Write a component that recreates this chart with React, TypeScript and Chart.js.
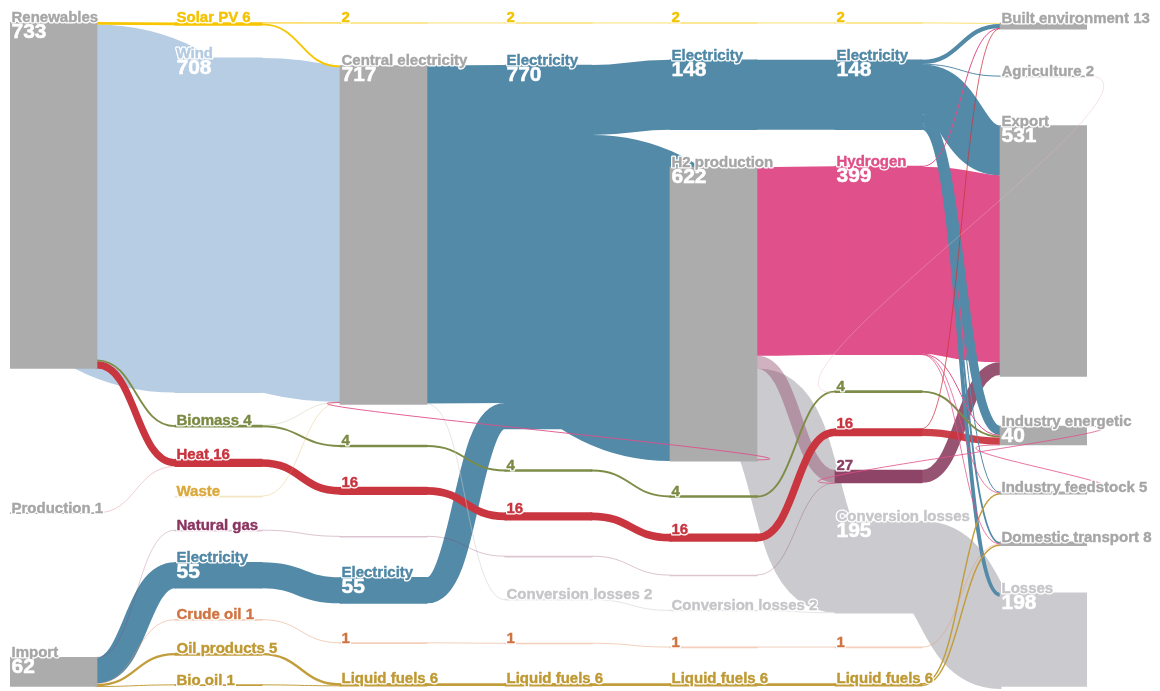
import React, { useEffect, useRef } from "react";
import { Chart, registerables } from "chart.js";

Chart.register(...registerables);

// ---------------- DATA ----------------
const NODE_IDS = [
  "renewables", "production", "import",
  "solarPV", "wind", "biomass1", "heat1", "waste", "gas1", "elec55a", "crude1", "oilProducts", "bioOil",
  "solar2", "central", "biomass2", "heat2", "gas2", "elec55b", "crude2", "liquid2",
  "solar3", "elec770", "biomass3", "heat3", "gas3", "conv2a", "crude3", "liquid3",
  "solar4", "elec148a", "h2prod", "biomass4", "heat4", "gas4", "conv2b", "crude4", "liquid4",
  "solar5", "elec148b", "hydrogen", "biomass5", "heat5", "gas27", "conv195", "crude5", "liquid5",
  "built", "agri", "export", "indEnergetic", "indFeedstock", "transport", "losses",
];

const NODE_NAMES = [
  "Renewables", "Production", "Import",
  "Solar PV", "Wind", "Biomass", "Heat", "Waste", "Natural gas", "Electricity", "Crude oil", "Oil products", "Bio oil",
  "", "Central electricity", "", "", "", "Electricity", "", "Liquid fuels",
  "", "Electricity", "", "", "", "Conversion losses", "", "Liquid fuels",
  "", "Electricity", "H2 production", "", "", "", "Conversion losses", "", "Liquid fuels",
  "", "Electricity", "Hydrogen", "", "", "", "Conversion losses", "", "Liquid fuels",
  "Built environment", "Agriculture", "Export", "Industry energetic", "Industry feedstock", "Domestic transport", "Losses",
];

const NODE_VALUES = [
  733, 1, 62,
  6, 708, 4, 16, 0.4, 0.4, 55, 1, 5, 1,
  2, 717, 4, 16, 0.4, 55, 1, 6,
  2, 770, 4, 16, 0.4, 2, 1, 6,
  2, 148, 622, 4, 16, 0.4, 2, 1, 6,
  2, 148, 399, 4, 16, 27, 195, 1, 6,
  13, 2, 531, 40, 5, 8, 198,
];

const LINK_SOURCES = [
  "renewables", "renewables", "renewables", "renewables", "production",
  "import", "import", "import", "import", "import",
  "solarPV", "solarPV", "wind", "biomass1", "biomass1", "heat1", "waste", "gas1", "elec55a", "crude1", "oilProducts", "bioOil",
  "solar2", "central", "central", "biomass2", "heat2", "gas2", "elec55b", "crude2", "liquid2",
  "solar3", "elec770", "elec770", "biomass3", "heat3", "gas3", "conv2a", "crude3", "liquid3",
  "solar4", "elec148a", "h2prod", "h2prod", "h2prod", "biomass4", "heat4", "gas4", "conv2b", "crude4", "liquid4",
  "solar5", "elec148b", "elec148b", "elec148b", "elec148b", "elec148b", "elec148b", "elec148b",
  "hydrogen", "hydrogen", "hydrogen", "hydrogen", "hydrogen",
  "biomass5", "heat5", "heat5", "gas27", "conv195", "crude5", "liquid5", "liquid5",
];
const LINK_TARGETS = [
  "solarPV", "wind", "biomass1", "heat1", "heat1",
  "gas1", "elec55a", "crude1", "oilProducts", "bioOil",
  "solar2", "central", "central", "biomass2", "central", "heat2", "central", "gas2", "elec55b", "crude2", "liquid2", "liquid2",
  "solar3", "elec770", "conv2a", "biomass3", "heat3", "gas3", "elec770", "crude3", "liquid3",
  "solar4", "elec148a", "h2prod", "biomass4", "heat4", "gas4", "conv2b", "crude4", "liquid4",
  "solar5", "elec148b", "hydrogen", "gas27", "conv195", "biomass5", "heat5", "gas27", "conv195", "crude5", "liquid5",
  "built", "built", "agri", "export", "indEnergetic", "indFeedstock", "transport", "losses",
  "built", "export", "indEnergetic", "indFeedstock", "transport",
  "indEnergetic", "built", "indEnergetic", "export", "losses", "transport", "indFeedstock", "transport",
];
const LINK_VALUES = [
  6, 708, 4, 15, 1,
  0.4, 55, 1, 5, 1,
  2, 4, 708, 4, 0.3, 16, 0.4, 0.4, 55, 1, 5, 1,
  2, 715, 2, 4, 16, 0.4, 55, 1, 6,
  2, 148, 622, 4, 16, 0.4, 2, 1, 6,
  2, 148, 399, 27, 193, 4, 16, 0.4, 2, 1, 6,
  2, 9, 1, 105, 19, 2, 4, 8,
  1, 396, 1, 0.5, 0.5,
  4, 0.5, 15.5, 27, 195, 1, 3, 3,
];

// backward (looping) flows
const LOOP_SOURCES = ["h2prod", "indEnergetic", "indFeedstock", "agri"];
const LOOP_TARGETS = ["central", "gas27", "indEnergetic", "biomass5"];
const LOOP_VALUES = [0.8, 0.8, 0.8, 0.5];

// ---------------- LAYOUT & STYLE ----------------
const COL_PX = 165;
const NODE_PX = 87;
const NODE_FRAC = NODE_PX / COL_PX;
const X_MAX = 6 + NODE_FRAC;
const Y_MAX = 1407;
const TWO_LINE_MIN = 30;
const SEAM_PX = 1.5;

// id -> [column, top (value units), style, alpha]
const NODE_LAYOUT: Record<string, [number, number, string, number]> = {
  renewables: [0, 0, "gray", 1],
  production: [0, 1038, "gray", 1],
  import: [0, 1344, "gray", 1],
  solarPV: [1, 1, "solar", 1],
  wind: [1, 76, "wind", 1],
  biomass1: [1, 853, "bio", 1],
  heat1: [1, 925, "heat", 1],
  waste: [1, 1003, "waste", 0.3],
  gas1: [1, 1075, "gas", 0.3],
  elec55a: [1, 1143, "elec", 1],
  crude1: [1, 1264, "crude", 0.45],
  oilProducts: [1, 1335, "oil", 1],
  bioOil: [1, 1402, "oil", 1],
  solar2: [2, 1, "solar", 0.55],
  central: [2, 92, "gray", 1],
  biomass2: [2, 895, "bio", 1],
  heat2: [2, 984, "heat", 1],
  gas2: [2, 1088, "gas", 0.3],
  elec55b: [2, 1175, "elec", 1],
  crude2: [2, 1313, "crude", 0.45],
  liquid2: [2, 1399, "oil", 1],
  solar3: [3, 1, "solar", 0.55],
  elec770: [3, 91, "elec", 1],
  biomass3: [3, 947, "bio", 1],
  heat3: [3, 1038, "heat", 1],
  gas3: [3, 1130, "gas", 0.3],
  conv2a: [3, 1221, "loss", 0.5],
  crude3: [3, 1314, "crude", 0.45],
  liquid3: [3, 1399, "oil", 1],
  solar4: [4, 1, "solar", 0.55],
  elec148a: [4, 80, "elec", 1],
  h2prod: [4, 307, "gray", 1],
  biomass4: [4, 1002, "bio", 1],
  heat4: [4, 1083, "heat", 1],
  gas4: [4, 1170, "gas", 0.3],
  conv2b: [4, 1244, "loss", 0.5],
  crude4: [4, 1322, "crude", 0.45],
  liquid4: [4, 1399, "oil", 1],
  solar5: [5, 1, "solar", 0.55],
  elec148b: [5, 80, "elec", 1],
  hydrogen: [5, 305, "h2", 1],
  biomass5: [5, 780, "bio", 1],
  heat5: [5, 860, "heat", 1],
  gas27: [5, 948, "gas27", 1],
  conv195: [5, 1056, "loss", 1],
  crude5: [5, 1322, "crude", 0.45],
  liquid5: [5, 1399, "oil", 1],
  built: [6, 2, "gray", 1],
  agri: [6, 114, "gray", 1],
  export: [6, 219, "gray", 1],
  indEnergetic: [6, 855, "gray", 1],
  indFeedstock: [6, 994, "gray", 1],
  transport: [6, 1100, "gray", 1],
  losses: [6, 1208, "loss", 1],
};

const FILL: Record<string, string> = {
  gray: "#acacac", solar: "#f7c600", wind: "#b6cde3", elec: "#528aa8", h2: "#e0508a",
  bio: "#7d8c46", heat: "#c9363f", waste: "#dcaa3d", gas: "#8c3d62", gas27: "#8e4466",
  crude: "#e4946a", oil: "#c29d3b", loss: "#cbcbcf",
};
const LABEL: Record<string, string> = {
  gray: "#a6a6a6", solar: "#f4c300", wind: "#b3cbe2", elec: "#4f87a6", h2: "#df4f88",
  bio: "#7a8a43", heat: "#c8343e", waste: "#dba93b", gas: "#8a3460", gas27: "#8a3d62",
  crude: "#cf7443", oil: "#bf9933", loss: "#c6c6ca",
};
const LINK_ALPHA_OVERRIDE: Record<string, number> = {
  "production>heat1": 0.25,
  "biomass1>central": 0.2,
  "h2prod>gas27": 0.42,
  "import>gas1": 0.25,
  "gas27>export": 0.92,
  "heat5>indEnergetic": 0.95,
};
const LOOP_COLORS = ["#e0508a", "#e0508a", "#e0508a", "#e8b4c4"];
const LOOP_ALPHA = [0.9, 0.8, 0.8, 0.4];
const LOOP_REACH = 110;

const NAME_FONT = 'bold 15px "Liberation Sans", Arial, sans-serif';
const VALUE_FONT = 'bold 21px "Liberation Sans", Arial, sans-serif';

function rgba(hex: string, a: number) {
  const n = parseInt(hex.slice(1), 16);
  return `rgba(${(n >> 16) & 255},${(n >> 8) & 255},${n & 255},${a})`;
}

type L = { s: number; t: number; v: number; sy: number; ty: number; key: string; loop: boolean; li: number };

function buildLinks(): L[] {
  const idx = new Map(NODE_IDS.map((id, i) => [id, i] as [string, number]));
  const top = (i: number) => NODE_LAYOUT[NODE_IDS[i]][1];
  const reg: L[] = LINK_SOURCES.map((s, i) => ({
    s: idx.get(s)!, t: idx.get(LINK_TARGETS[i])!, v: LINK_VALUES[i], sy: 0, ty: 0,
    key: s + ">" + LINK_TARGETS[i], loop: false, li: -1,
  }));
  const loops: L[] = LOOP_SOURCES.map((s, i) => ({
    s: idx.get(s)!, t: idx.get(LOOP_TARGETS[i])!, v: LOOP_VALUES[i], sy: 0, ty: 0,
    key: s + ">" + LOOP_TARGETS[i], loop: true, li: i,
  }));
  NODE_IDS.forEach((_, n) => {
    let off = top(n);
    reg.filter((l) => l.s === n).sort((a, b) => top(a.t) - top(b.t)).forEach((l) => { l.sy = off; off += l.v; });
    loops.filter((l) => l.s === n).forEach((l) => { l.sy = off; off += l.v; });
    let inn = top(n);
    reg.filter((l) => l.t === n).sort((a, b) => top(a.s) - top(b.s)).forEach((l) => { l.ty = inn; inn += l.v; });
    loops.filter((l) => l.t === n).forEach((l) => { l.ty = inn; inn += l.v; });
  });
  return [...reg.sort((a, b) => b.v - a.v), ...loops];
}

function drawLinks(chart: any, loopsOnly: boolean) {
  const { ctx, scales } = chart;
  const x = scales.x, y = scales.y;
  const links = buildLinks().filter((l) => l.loop === loopsOnly);
  ctx.save();
  ctx.lineCap = "butt";
  links.forEach((l) => {
    const [sc, , sStyle, sAlpha] = NODE_LAYOUT[NODE_IDS[l.s]];
    const [tc, , tStyle, tAlpha] = NODE_LAYOUT[NODE_IDS[l.t]];
    const x0 = x.getPixelForValue(sc + NODE_FRAC);
    const x1 = x.getPixelForValue(tc);
    const y0 = y.getPixelForValue(l.sy + l.v / 2);
    const y1 = y.getPixelForValue(l.ty + l.v / 2);
    const w = Math.max(1, Math.abs(y.getPixelForValue(l.v) - y.getPixelForValue(0)));
    let color: string;
    let alpha: number;
    if (l.loop) {
      color = LOOP_COLORS[l.li];
      alpha = LOOP_ALPHA[l.li];
    } else {
      const useSource = sStyle !== "gray";
      color = FILL[useSource ? sStyle : tStyle];
      alpha = useSource ? sAlpha : tAlpha;
      if (LINK_ALPHA_OVERRIDE[l.key] !== undefined) alpha = LINK_ALPHA_OVERRIDE[l.key];
      if (l.v < 1 && alpha > 0.75) alpha = 0.75;
    }
    ctx.strokeStyle = rgba(color, alpha);
    ctx.lineWidth = w;
    ctx.beginPath();
    if (l.loop) {
      ctx.moveTo(x0, y0);
      ctx.bezierCurveTo(x0 + LOOP_REACH, y0, x1 - LOOP_REACH, y1, x1, y1);
    } else {
      const seam = alpha >= 0.9 ? SEAM_PX : 0;
      const xm = (x0 + x1) / 2;
      ctx.moveTo(x0 - seam, y0);
      ctx.lineTo(x0, y0);
      ctx.bezierCurveTo(xm, y0, xm, y1, x1, y1);
      ctx.lineTo(x1 + seam, y1);
    }
    ctx.stroke();
  });
  ctx.restore();
}

const sankeyPlugin = {
  id: "sankeyFlows",
  beforeDatasetsDraw(chart: any) {
    drawLinks(chart, false);
  },
  afterDatasetsDraw(chart: any) {
    drawLinks(chart, true);
  },
  afterDraw(chart: any) {
    const { ctx, scales } = chart;
    const x = scales.x, y = scales.y;
    ctx.save();
    ctx.textBaseline = "alphabetic";
    ctx.textAlign = "left";
    ctx.lineJoin = "round";
    const halo = (text: string, px: number, py: number, color: string) => {
      ctx.font = NAME_FONT;
      ctx.strokeStyle = "#ffffff";
      ctx.lineWidth = 3;
      ctx.strokeText(text, px, py);
      ctx.fillStyle = color;
      ctx.fillText(text, px, py);
      ctx.strokeStyle = color;
      ctx.lineWidth = 0.4;
      ctx.strokeText(text, px, py);
    };
    NODE_IDS.forEach((id, i) => {
      const [col, top, style] = NODE_LAYOUT[id];
      const name = NODE_NAMES[i];
      const v = NODE_VALUES[i];
      const vt = v >= 0.5 ? String(Math.round(v)) : "";
      const lx = x.getPixelForValue(col) + 1.5;
      const ty = y.getPixelForValue(top);
      const color = LABEL[style];
      if (name && v >= TWO_LINE_MIN) {
        halo(name, lx, ty, color);
        ctx.font = VALUE_FONT;
        ctx.fillStyle = "#ffffff";
        ctx.fillText(vt, lx, ty + 16);
        ctx.strokeStyle = "#ffffff";
        ctx.lineWidth = 0.5;
        ctx.strokeText(vt, lx, ty + 16);
      } else {
        const text = [name, vt].filter(Boolean).join(" ");
        if (text) halo(text, lx, ty, color);
      }
    });
    ctx.restore();
  },
};

export default function App() {
  const ref = useRef<HTMLCanvasElement>(null);
  useEffect(() => {
    const canvas = ref.current;
    if (!canvas) return;
    const data = NODE_IDS.map((id, i) => {
      const [col, top] = NODE_LAYOUT[id];
      return { x: col + NODE_FRAC / 2, y: [top, top + NODE_VALUES[i]] };
    });
    const colors = NODE_IDS.map((id) => {
      const [, , style, alpha] = NODE_LAYOUT[id];
      return rgba(FILL[style], alpha);
    });
    const chart = new Chart(canvas, {
      type: "bar",
      data: {
        datasets: [
          {
            data: data as any,
            backgroundColor: colors,
            borderWidth: 0,
            barThickness: NODE_PX,
            minBarLength: 1,
            grouped: false,
          } as any,
        ],
      },
      options: {
        responsive: false,
        animation: false,
        devicePixelRatio: 1,
        events: [],
        layout: { padding: { left: 10, right: 73, top: 22, bottom: 4 } },
        plugins: { legend: { display: false }, tooltip: { enabled: false } },
        scales: {
          x: { type: "linear", min: 0, max: X_MAX, offset: false, display: false },
          y: { type: "linear", min: 0, max: Y_MAX, reverse: true, display: false },
        },
      } as any,
      plugins: [sankeyPlugin],
    });
    return () => chart.destroy();
  }, []);
  return (
    <div style={{ position: "fixed", left: 0, top: 0, width: 1160, height: 691, background: "#ffffff" }}>
      <canvas ref={ref} width={1160} height={691} style={{ display: "block" }} />
    </div>
  );
}
